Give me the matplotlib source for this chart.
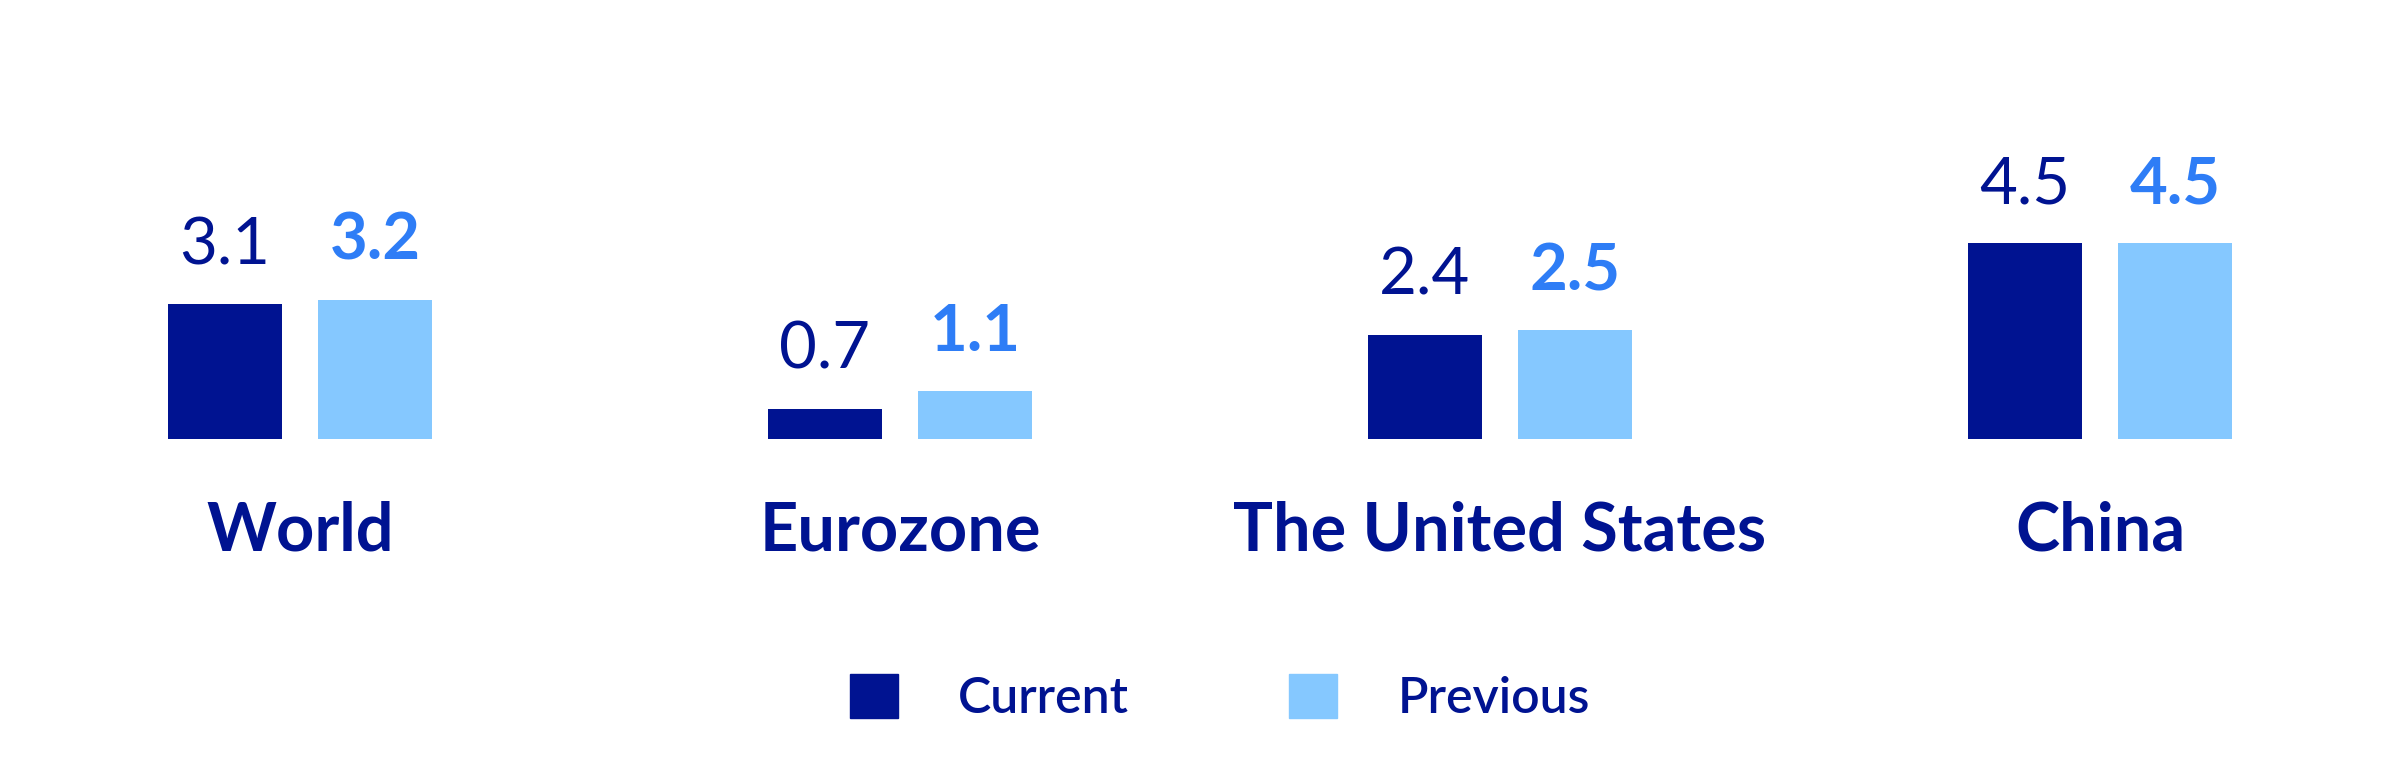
import matplotlib

matplotlib.use("Agg")
import matplotlib.pyplot as plt
from matplotlib.patches import Patch

plt.rcParams["font.family"] = ["Lato", "DejaVu Sans"]

categories = ["World", "Eurozone", "The United States", "China"]
current = [3.1, 0.7, 2.4, 4.5]
previous = [3.2, 1.1, 2.5, 4.5]
series_names = ["Current", "Previous"]

NAVY = "#001391"
LIGHT = "#85C8FF"
LABEL_BLUE = "#2E7DF6"

fig = plt.figure(figsize=(24, 7.8), dpi=100)
ax = fig.add_axes([0, 0.4372, 1, 0.279])

x = list(range(len(categories)))
w = 0.189
off = 0.125
ax.bar([i - off for i in x], current, width=w, color=NAVY)
ax.bar([i + off for i in x], previous, width=w, color=LIGHT)

for i, (c, p) in enumerate(zip(current, previous)):
    ax.annotate(f"{c:.1f}", xy=(i - off, c), xytext=(0, 40), textcoords="offset pixels",
                ha="center", va="baseline", fontsize=47, color=NAVY, fontweight="normal")
    ax.annotate(f"{p:.1f}", xy=(i + off, p), xytext=(0, 40), textcoords="offset pixels",
                ha="center", va="baseline", fontsize=47, color=LABEL_BLUE, fontweight="bold")
    ax.annotate(categories[i], xy=(i, 0), xytext=(0, -112), textcoords="offset pixels",
                ha="center", va="baseline", fontsize=48, color=NAVY, fontweight="bold")

ax.set_xlim(-0.5, 3.5)
ax.set_ylim(0, 5)
ax.axis("off")

handles = [Patch(color=NAVY), Patch(color=LIGHT)]
fig.legend(handles, series_names, loc="center", bbox_to_anchor=(1220 / 2400, 0.106),
           ncol=2, frameon=False, fontsize=36, handlelength=0.96, handleheight=0.98,
           handletextpad=1.2, columnspacing=3.2, labelcolor=NAVY,
           prop={"size": 36, "weight": "semibold"})

fig.savefig("out.png", dpi=100, facecolor="white")
